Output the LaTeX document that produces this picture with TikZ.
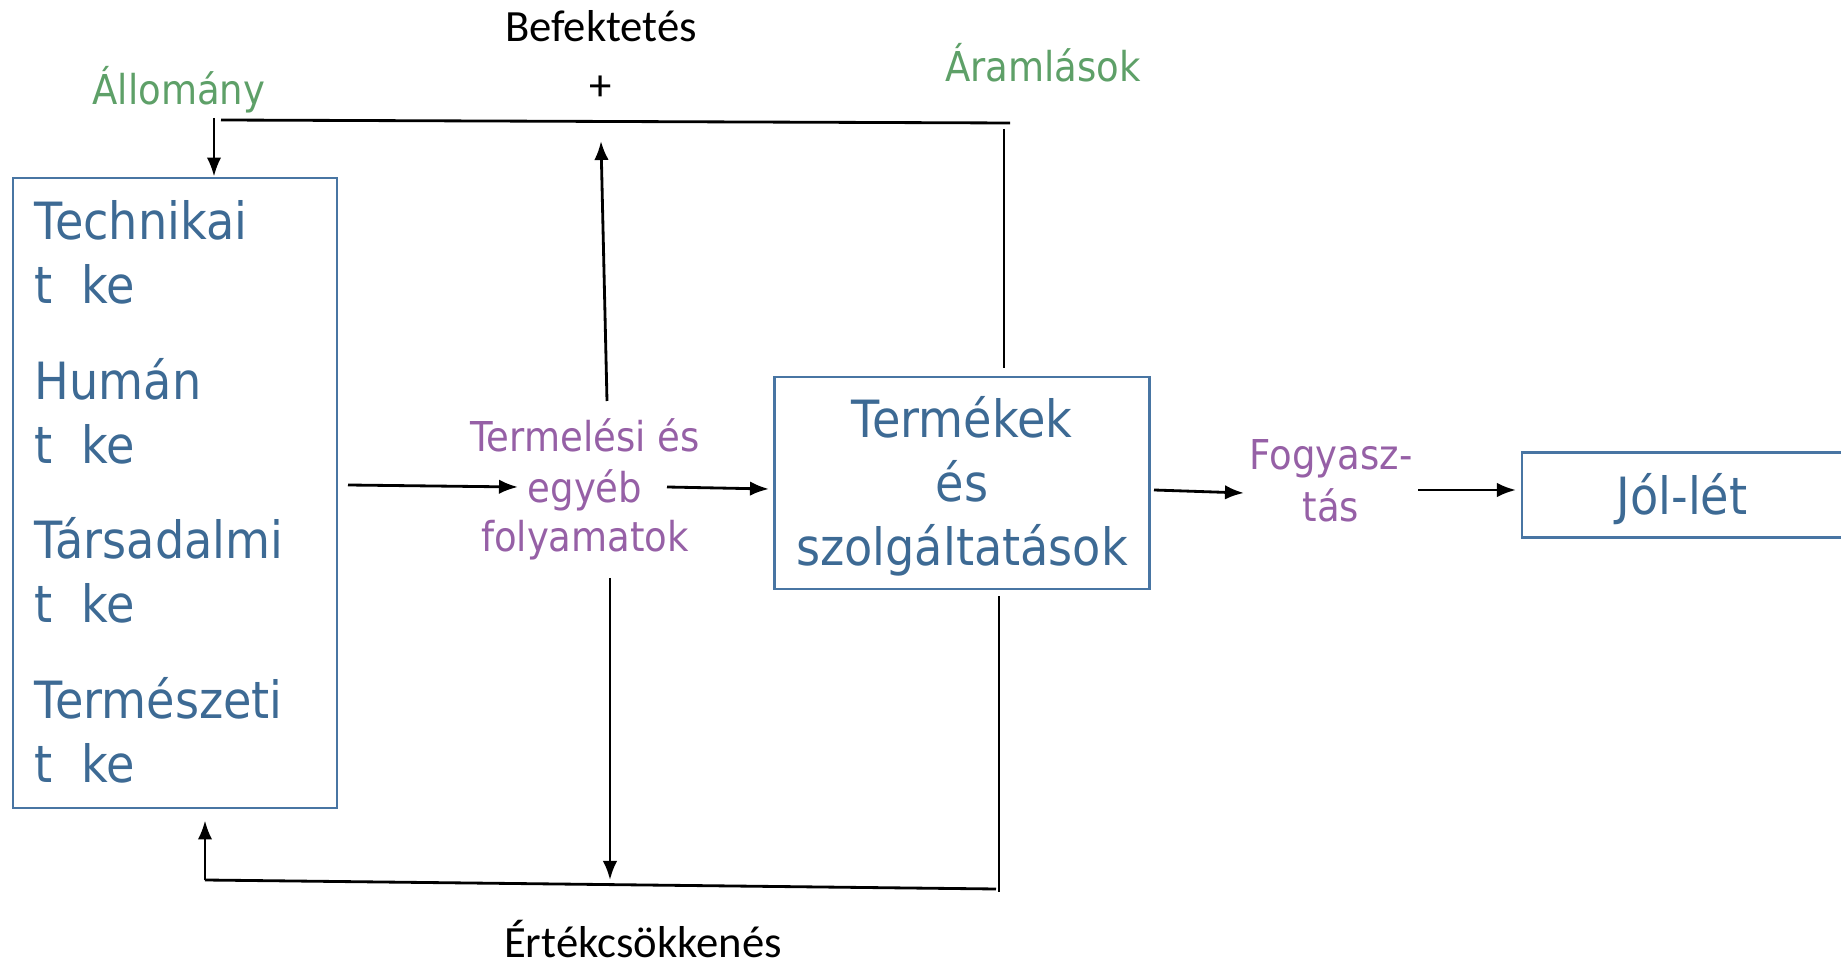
\documentclass[tikz,border=0pt]{standalone}
\usepackage{fontspec}
\setmainfont{DejaVu Sans}[FakeStretch=0.9]
\newfontfamily\calfont{Carlito}
\usetikzlibrary{arrows.meta}
\definecolor{kek}{RGB}{61,106,148}
\definecolor{keretkek}{RGB}{72,117,163}
\definecolor{zold}{RGB}{94,160,104}
\definecolor{lila}{RGB}{150,96,166}
\begin{document}
\begin{tikzpicture}[x=0.01cm,y=-0.01cm]
\tikzset{keret/.style={draw=keretkek,line width=0.7pt,inner sep=0pt},
nagy/.style={text=kek,font=\fontsize{14.6}{17}\selectfont,inner sep=0pt},
kicsi/.style={font=\fontsize{11.7}{14}\selectfont,inner sep=0pt},
fekete/.style={font=\calfont\fontsize{12.7}{15}\selectfont,inner sep=0pt},
vonal/.style={line width=0.8pt},
nyil/.style={line width=0.8pt,-{Latex[length=1.9mm,width=1.45mm]}}}
\clip (0,0) rectangle (1841,967);
% the boxes
\node[keret,minimum width=3.24cm,minimum height=6.30cm] (toke) at (175,493) {};
\node[keret,minimum width=3.75cm,minimum height=2.12cm] (termek) at (962,483) {};
\node[keret,minimum width=3.22cm,minimum height=0.85cm] (jol) at (1683,495) {};
% texts in the left box
\foreach \nev/\y [count=\i] in {Technikai/240,Humán/400,Társadalmi/559,Természeti/719} {
\node[nagy,anchor=base west] (tipus\i) at (34,\y) {\nev};
\node[nagy,anchor=base west] (toke\i) at (34,\y+64) {t\phantom{o}ke};
}
% texts in the other boxes
\foreach \sor/\y [count=\i] in {Termékek/438,és/502,szolgáltatások/566} {
\node[nagy,anchor=base] (termek\i) at (962,\y) {\sor};
}
\node[nagy,anchor=base] (jolszoveg) at (1682,515) {Jól-lét};
% purple labels
\foreach \sor/\y [count=\i] in {Termelési és/452,egyéb/503,folyamatok/552} {
\node[kicsi,text=lila,anchor=base] (folyamat\i) at (585,\y) {\sor};
}
\node[kicsi,text=lila,anchor=base] (fogy1) at (1331,470) {Fogyasz-};
\node[kicsi,text=lila,anchor=base] (fogy2) at (1331,522) {tás};
% green labels
\node[kicsi,text=zold,anchor=base] (allomany) at (179,105) {Állomány};
\node[kicsi,text=zold,anchor=base] (aramlasok) at (1043,82) {Áramlások};
% black labels
\node[fekete,anchor=base] (befektetes) at (601,42) {Befektetés};
\node[fekete] (plusz) at (601,88) {+};
\node[fekete,anchor=base] (ertekcs) at (643,958) {Értékcsökkenés};
% the loop on top
\coordinate (allonyil) at (214,118);
\coordinate (fentbal) at (221,120);
\coordinate (fentjobb) at (1010,123);
\coordinate (aramfent) at (1004,129);
\draw[nyil] (allonyil) -- (allonyil |- toke.north);
\draw[vonal] (fentbal) -- (fentjobb);
\draw[vonal] (aramfent) -- ([yshift=0.08cm]aramfent |- termek.north);
\coordinate (befalso) at (607,401);
\coordinate (beffelso) at (601,141);
\draw[nyil] (befalso) -- (beffelso);
% the loop at the bottom
\coordinate (ertfent) at (610,578);
\coordinate (ertlent) at (610,880);
\coordinate (lentbal) at (205,880);
\coordinate (lentjobb) at (996,889);
\coordinate (termeklent) at (999,892);
\draw[nyil] (ertfent) -- (ertlent);
\draw[vonal] (lentbal) -- (lentjobb);
\draw[vonal] ([yshift=-0.06cm]termeklent |- termek.south) -- (termeklent);
\draw[nyil] (lentbal) -- ([yshift=-0.11cm]lentbal |- toke.south);
% arrows from left to right
\coordinate (h1) at (348,485);
\coordinate (h2) at (518,487);
\coordinate (h3) at (667,487);
\coordinate (h4) at (769,489);
\coordinate (h5) at (1154,490);
\coordinate (h6) at (1244,493);
\coordinate (h7) at (1418,490);
\coordinate (h8) at (1516,490);
\draw[nyil] (h1) -- (h2);
\draw[nyil] (h3) -- (h4);
\draw[nyil] (h5) -- (h6);
\draw[nyil] (h7) -- (h8);
\end{tikzpicture}
\end{document}
